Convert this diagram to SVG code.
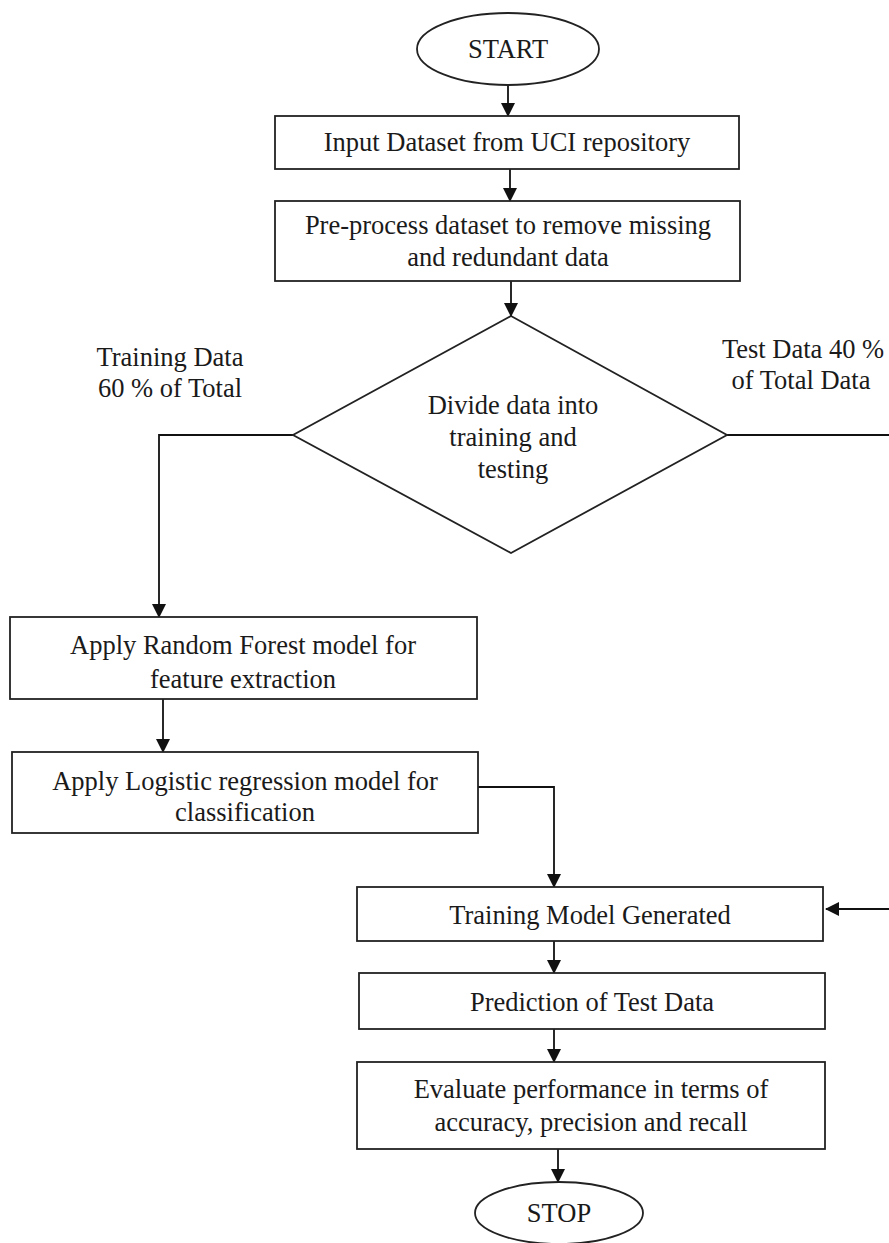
<svg xmlns="http://www.w3.org/2000/svg" width="889" height="1243" viewBox="0 0 889 1243">
<defs>
<marker id="ah" markerUnits="userSpaceOnUse" markerWidth="14" markerHeight="14" refX="13" refY="7" orient="auto">
<path d="M0,0 L14,7 L0,14 Z" fill="#111"/>
</marker>
<style>
.n{fill:#fff;stroke:#222;stroke-width:1.8}
.t{font-family:"Liberation Serif","Times New Roman",serif;font-size:26.5px;fill:#1a1a1a;text-anchor:middle}
.c{fill:none;stroke:#111;stroke-width:1.8}
</style>
</defs>
<rect width="889" height="1243" fill="#fff"/>
<g id="connectors">
<path class="c" d="M508,85 V116" marker-end="url(#ah)"/>
<path class="c" d="M510,169 V201" marker-end="url(#ah)"/>
<path class="c" d="M511,281 V316" marker-end="url(#ah)"/>
<path class="c" d="M293,435 H159 V617" marker-end="url(#ah)"/>
<path class="c" d="M727,435 H895 V909 H826" marker-end="url(#ah)"/>
<path class="c" d="M163,699 V752" marker-end="url(#ah)"/>
<path class="c" d="M478,787 H554 V887" marker-end="url(#ah)"/>
<path class="c" d="M554,941 V973" marker-end="url(#ah)"/>
<path class="c" d="M554,1029 V1062" marker-end="url(#ah)"/>
<path class="c" d="M558,1149 V1182" marker-end="url(#ah)"/>
</g>
<g id="start">
<ellipse class="n" cx="508" cy="49" rx="91" ry="36"/>
<text class="t" x="508" y="58">START</text>
</g>
<g id="input">
<rect class="n" x="275" y="116" width="464" height="53"/>
<text class="t" x="507" y="151">Input Dataset from UCI repository</text>
</g>
<g id="preprocess">
<rect class="n" x="275" y="201" width="465" height="80"/>
<text class="t" x="508" y="234">Pre-process dataset to remove missing</text>
<text class="t" x="508" y="266">and redundant data</text>
</g>
<g id="divide">
<polygon class="n" points="511,316 727,435 511,553 293,435"/>
<text class="t" x="513" y="414">Divide data into</text>
<text class="t" x="513" y="446">training and</text>
<text class="t" x="513" y="478">testing</text>
</g>
<g id="label-train">
<text class="t" x="170" y="366">Training Data</text>
<text class="t" x="170" y="397">60 % of Total</text>
</g>
<g id="label-test">
<text class="t" x="803" y="358">Test Data 40 %</text>
<text class="t" x="801" y="389">of Total Data</text>
</g>
<g id="rf">
<rect class="n" x="10" y="617" width="467" height="82"/>
<text class="t" x="243" y="654">Apply Random Forest model for</text>
<text class="t" x="243" y="688">feature extraction</text>
</g>
<g id="lr">
<rect class="n" x="12" y="752" width="466" height="81"/>
<text class="t" x="245" y="790">Apply Logistic regression model for</text>
<text class="t" x="245" y="821">classification</text>
</g>
<g id="trained">
<rect class="n" x="357" y="887" width="466" height="54"/>
<text class="t" x="590" y="924">Training Model Generated</text>
</g>
<g id="predict">
<rect class="n" x="359" y="973" width="466" height="56"/>
<text class="t" x="592" y="1011">Prediction of Test Data</text>
</g>
<g id="evaluate">
<rect class="n" x="357" y="1062" width="468" height="87"/>
<text class="t" x="591" y="1098">Evaluate performance in terms of</text>
<text class="t" x="591" y="1131">accuracy, precision and recall</text>
</g>
<g id="stop">
<ellipse class="n" cx="559" cy="1213" rx="84" ry="31"/>
<text class="t" x="559" y="1222">STOP</text>
</g>
</svg>
